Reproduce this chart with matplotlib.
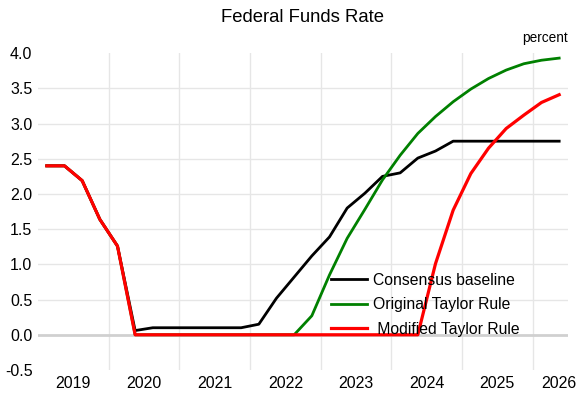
import matplotlib
matplotlib.use("Agg")
import matplotlib.pyplot as plt
import numpy as np

plt.rcParams['font.family'] = ['Liberation Sans', 'DejaVu Sans']

# Quarterly data, 2019Q1 .. 2026Q2
quarters = [f"{y}Q{q}" for y in range(2019, 2027) for q in range(1, 5)][:30]
consensus = [2.40, 2.40, 2.19, 1.64, 1.26, 0.06, 0.10, 0.10, 0.10, 0.10,
             0.10, 0.10, 0.15, 0.52, 0.82, 1.12, 1.39, 1.80, 2.01, 2.25,
             2.30, 2.51, 2.61, 2.75, 2.75, 2.75, 2.75, 2.75, 2.75, 2.75]
original_taylor = [2.40, 2.40, 2.19, 1.64, 1.26, 0.0, 0.0, 0.0, 0.0, 0.0,
                   0.0, 0.0, 0.0, 0.0, 0.0, 0.27, 0.85, 1.37, 1.78, 2.20,
                   2.55, 2.86, 3.10, 3.31, 3.49, 3.64, 3.76, 3.85, 3.90, 3.93]
modified_taylor = [2.40, 2.40, 2.19, 1.64, 1.26, 0.0, 0.0, 0.0, 0.0, 0.0,
                   0.0, 0.0, 0.0, 0.0, 0.0, 0.0, 0.0, 0.0, 0.0, 0.0,
                   0.0, 0.0, 1.01, 1.77, 2.29, 2.65, 2.93, 3.12, 3.30, 3.41]
years = ["2019", "2020", "2021", "2022", "2023", "2024", "2025", "2026"]
yticks = [-0.5, 0.0, 0.5, 1.0, 1.5, 2.0, 2.5, 3.0, 3.5, 4.0]

x = np.arange(len(quarters))

fig = plt.figure(figsize=(5.78, 3.96), dpi=100)
ax = fig.add_axes([0.0657, 0.0657, 0.917, 0.800])

# gridlines
for yv in yticks:
    if yv == 0.0:
        ax.axhline(yv, color='#d0d0d0', lw=2.0, zorder=1)
    elif yv not in (-0.5, 4.0):
        ax.axhline(yv, color='#e6e6e6', lw=1.0, zorder=0)
for k in range(1, len(years)):
    ax.axvline(4 * k - 0.5, color='#e6e6e6', lw=1.0, zorder=0)

ax.plot(x, consensus, color='black', lw=2.0, label='Consensus baseline', zorder=3)
ax.plot(x, original_taylor, color='#008000', lw=2.0, label='Original Taylor Rule', zorder=4)
ax.plot(x, modified_taylor, color='#ff0000', lw=2.3, label=' Modified Taylor Rule', zorder=5)

ax.set_xlim(-0.5, 29.5)
ax.set_ylim(-0.5, 4.0)
ax.set_yticks(yticks)
ax.set_yticklabels([f"{v:.1f}" for v in yticks], fontsize=11.5)
year_pos = [4 * k + 1.5 for k in range(len(years) - 1)] + [29.0]
ax.set_xticks(year_pos)
ax.set_xticklabels(years, fontsize=11.5)
ax.tick_params(axis='both', length=0, pad=4)
for s in ax.spines.values():
    s.set_visible(False)

fig.text(0.524, 0.957, "Federal Funds Rate", ha='center', va='center', fontsize=13.3)
fig.text(0.983, 0.905, "percent", ha='right', va='center', fontsize=9.8)

leg = ax.legend(loc='upper left', bbox_to_anchor=(0.541, 0.327), frameon=False,
                fontsize=11.3, handlelength=2.3, handletextpad=0.38, labelspacing=0.6,
                borderaxespad=0)

fig.savefig("out.png", dpi=100)
